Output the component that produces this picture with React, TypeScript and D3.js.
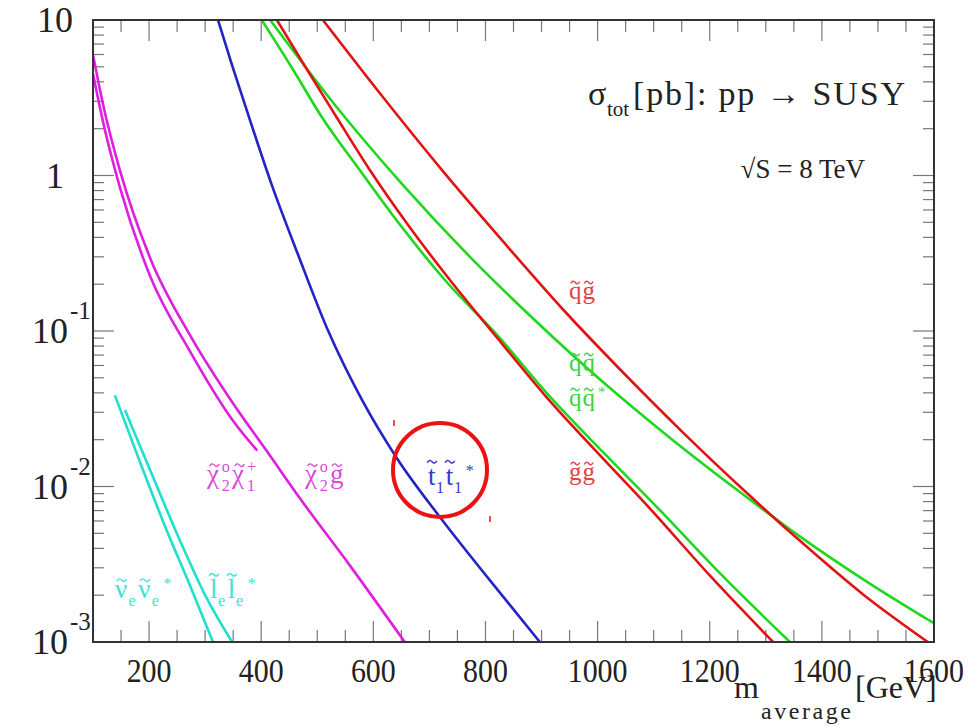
import React from 'react';
import * as d3 from 'd3';

const W = 973;
const H = 726;
const FONT = '"Liberation Serif", "Times New Roman", serif';

// masses in GeV, total cross sections in pb
const snuMass = [139, 184, 228, 273, 314];
const snuXsec = [0.0386, 0.0143, 0.0056, 0.00231, 0.001];

const selMass = [157, 202, 255, 300, 348];
const selXsec = [0.031, 0.0127, 0.0045, 0.002, 0.001];

const n2c1Mass = [100, 121, 148, 202, 273, 352, 393];
const n2c1Xsec = [4.5, 1.98, 0.84, 0.225, 0.074, 0.0258, 0.017];

const n2glMass = [100, 121, 148, 202, 273, 352, 409, 469, 558, 656];
const n2glXsec = [5.96, 2.56, 1.08, 0.294, 0.094, 0.0333, 0.0171, 0.0084, 0.00311, 0.001];

const stopMass = [323, 348, 380, 419, 466, 519, 580, 642, 719, 808, 897];
const stopXsec = [10, 5.13, 2.27, 0.867, 0.308, 0.101, 0.0359, 0.0152, 0.00634, 0.00249, 0.001];

const glglMass = [428, 480, 532, 594, 662, 737, 817, 906, 1004, 1093, 1200, 1313];
const glglXsec = [10, 4.91, 2.45, 1.08, 0.48, 0.212, 0.094, 0.0386, 0.0159, 0.00724, 0.00268, 0.001];

const sqsqbMass = [401, 455, 508, 576, 648, 728, 821, 913, 1015, 1108, 1222, 1343];
const sqsqbXsec = [10, 4.91, 2.38, 1.08, 0.48, 0.212, 0.094, 0.0386, 0.0159, 0.00724, 0.00268, 0.001];

const sqsqMass = [416, 533, 653, 771, 890, 1008, 1126, 1245, 1363, 1482, 1600];
const sqsqXsec = [10, 2.797, 0.867, 0.303, 0.1156, 0.0475, 0.021, 0.00974, 0.00471, 0.00242, 0.00132];

const sqglMass = [510, 617, 724, 831, 938, 1045, 1152, 1259, 1366, 1473, 1589];
const sqglXsec = [10, 3.195, 1.067, 0.378, 0.138, 0.0543, 0.0223, 0.0096, 0.00431, 0.00203, 0.001];

const xMajorTicks = [200, 400, 600, 800, 1000, 1200, 1400, 1600];
const xTickLabels = ['200', '400', '600', '800', '1000', '1200', '1400', '1600'];
const yDecades = [10, 1, 0.1, 0.01, 0.001];
const yExponents = ['', '', '-1', '-2', '-3'];
const yBases = ['10', '1', '10', '10', '10'];

const CYAN = '#1fe0cc';
const MAGENTA = '#e01ee0';
const BLUE = '#2424c4';
const GREEN = '#1ed81e';
const RED = '#e01414';

const x = d3.scaleLinear().domain([100, 1600]).range([93, 934]);
const y = d3.scaleLog().domain([0.001, 10]).range([642, 20]);

const line = d3
  .line<[number, number]>()
  .x(d => x(d[0]))
  .y(d => y(d[1]))
  .curve(d3.curveMonotoneX);

const curves = [
  { m: snuMass, s: snuXsec, c: CYAN },
  { m: selMass, s: selXsec, c: CYAN },
  { m: n2c1Mass, s: n2c1Xsec, c: MAGENTA },
  { m: n2glMass, s: n2glXsec, c: MAGENTA },
  { m: stopMass, s: stopXsec, c: BLUE },
  { m: sqsqbMass, s: sqsqbXsec, c: GREEN },
  { m: sqsqMass, s: sqsqXsec, c: GREEN },
  { m: glglMass, s: glglXsec, c: RED },
  { m: sqglMass, s: sqglXsec, c: RED },
];

type Part = { ch: string; w: number; sub?: string; sup?: string; high?: boolean };

// sparticle symbol: letters in one <text>, tildes drawn as small waves above them
function Sym({ x0, y0, parts, color, fs, star }: { x0: number; y0: number; parts: Part[]; color: string; fs: number; star?: boolean }) {
  let cx = x0;
  const spans: React.ReactNode[] = [];
  const waves: string[] = [];
  parts.forEach((p, i) => {
    const bw = p.w * fs;
    const tw = fs * 0.36;
    const ty = y0 - fs * (p.high ? 0.86 : 0.66);
    const a = cx + bw / 2 - tw / 2;
    waves.push(`M${a},${ty + 1}Q${a + tw / 4},${ty - 3} ${a + tw / 2},${ty}T${a + tw},${ty - 1}`);
    spans.push(<tspan key={'b' + i} x={cx} y={y0} fontSize={fs}>{p.ch}</tspan>);
    let adv = bw;
    if (p.sub) {
      spans.push(<tspan key={'s' + i} x={cx + bw} y={y0 + fs * 0.3} fontSize={fs * 0.6}>{p.sub}</tspan>);
      adv = bw + fs * 0.32;
    }
    if (p.sup) {
      spans.push(<tspan key={'u' + i} x={cx + bw} y={y0 - fs * 0.42} fontSize={fs * 0.6}>{p.sup}</tspan>);
      adv = bw + fs * 0.34;
    }
    cx += adv + fs * 0.04;
  });
  if (star) spans.push(<tspan key="star" x={cx + 2} y={y0 - fs * 0.35} fontSize={fs * 0.6}>*</tspan>);
  return (
    <g>
      <text fill={color} fontFamily={FONT}>{spans}</text>
      <path d={waves.join('')} fill="none" stroke={color} strokeWidth={1.4} />
    </g>
  );
}

export default function App() {
  const yMinor = y.ticks().filter(v => !yDecades.some(d => Math.abs(d - v) / d < 1e-6));
  const xMinor = d3.range(150, 1600, 50).filter(v => v % 200 !== 0);

  return (
    <svg width={W} height={H} style={{ position: 'absolute', left: 0, top: 0, background: '#fff' }}>
      <defs>
        <clipPath id="plotArea">
          <rect x={93} y={20} width={841} height={622} />
        </clipPath>
      </defs>
      <rect width={W} height={H} fill="#fff" />

      {/* ticks */}
      <g stroke="#777" strokeWidth={1.2}>
        {xMajorTicks.map(v => (
          <g key={'xm' + v}>
            <line x1={x(v)} x2={x(v)} y1={642} y2={621} />
            <line x1={x(v)} x2={x(v)} y1={20} y2={41} />
          </g>
        ))}
        {xMinor.map(v => (
          <g key={'xn' + v}>
            <line x1={x(v)} x2={x(v)} y1={642} y2={630} />
            <line x1={x(v)} x2={x(v)} y1={20} y2={32} />
          </g>
        ))}
        {yDecades.map(v => (
          <g key={'ym' + v}>
            <line x1={93} x2={114} y1={y(v)} y2={y(v)} />
            <line x1={934} x2={913} y1={y(v)} y2={y(v)} />
          </g>
        ))}
        {yMinor.map(v => (
          <g key={'yn' + v}>
            <line x1={93} x2={104} y1={y(v)} y2={y(v)} />
            <line x1={934} x2={923} y1={y(v)} y2={y(v)} />
          </g>
        ))}
      </g>

      {/* curves */}
      <g clipPath="url(#plotArea)" fill="none" strokeWidth={2.6}>
        {curves.map((c, i) => (
          <path key={i} d={line(c.m.map((m, j) => [m, c.s[j]] as [number, number])) || ''} stroke={c.c} />
        ))}
      </g>

      {/* frame */}
      <rect x={93} y={20} width={841} height={622} fill="none" stroke="#333" strokeWidth={2} />

      {/* x tick labels */}
      <g fontFamily={FONT} fontSize={34} fill="#222" textAnchor="middle">
        {xMajorTicks.map((v, i) => (
          <text key={v} transform={`translate(${x(v)},682) scale(0.88,1)`}>{xTickLabels[i]}</text>
        ))}
      </g>

      {/* y tick labels */}
      <g fontFamily={FONT} fill="#222">
        {yDecades.map((v, i) =>
          yExponents[i] ? (
            <text key={v}>
              <tspan x={32} y={y(v) + 12} fontSize={36}>{yBases[i]}</tspan>
              <tspan x={70} y={y(v) - 12} fontSize={25}>{yExponents[i]}</tspan>
            </text>
          ) : (
            <text key={v} x={55} y={y(v) + 12} fontSize={36} textAnchor="middle">{yBases[i]}</text>
          )
        )}
      </g>

      {/* axis title */}
      <text fontFamily={FONT} fill="#222">
        <tspan x={734} y={698} fontSize={32}>m</tspan>
        <tspan x={761} y={719} fontSize={24} textLength={90}>average</tspan>
        <tspan x={855} y={698} fontSize={32}>[GeV]</tspan>
      </text>

      {/* header */}
      <text fontFamily={FONT} fill="#222">
        <tspan x={588} y={105} fontSize={34}>σ</tspan>
        <tspan x={607} y={116} fontSize={21}>tot</tspan>
        <tspan x={633} y={105} fontSize={34} textLength={272}>[pb]: pp → SUSY</tspan>
      </text>
      <text x={865} y={178} fontSize={27} fontFamily={FONT} fill="#222" textAnchor="end">√S = 8 TeV</text>

      {/* curve labels */}
      <Sym x0={207} y0={483} fs={27} color="#d84cd8" parts={[{ ch: 'χ', w: 0.55, sub: '2', sup: 'o' }, { ch: 'χ', w: 0.55, sub: '1', sup: '+' }]} />
      <Sym x0={305} y0={483} fs={27} color="#d84cd8" parts={[{ ch: 'χ', w: 0.55, sub: '2', sup: 'o' }, { ch: 'g', w: 0.5 }]} />
      <Sym x0={428} y0={485} fs={27} color="#3b3bd0" star parts={[{ ch: 't', w: 0.3, sub: '1', high: true }, { ch: 't', w: 0.3, sub: '1', high: true }]} />
      <Sym x0={115} y0={598} fs={27} color="#3ee2d6" star parts={[{ ch: 'ν', w: 0.5, sub: 'e' }, { ch: 'ν', w: 0.5, sub: 'e' }]} />
      <Sym x0={210} y0={598} fs={27} color="#3ee2d6" star parts={[{ ch: 'l', w: 0.3, sub: 'e', high: true }, { ch: 'l', w: 0.3, sub: 'e', high: true }]} />
      <Sym x0={569} y0={299} fs={25} color="#e04444" parts={[{ ch: 'q', w: 0.5 }, { ch: 'g', w: 0.5 }]} />
      <Sym x0={569} y0={371} fs={25} color="#3ed43e" parts={[{ ch: 'q', w: 0.5 }, { ch: 'q', w: 0.5 }]} />
      <Sym x0={569} y0={406} fs={25} color="#3ed43e" star parts={[{ ch: 'q', w: 0.5 }, { ch: 'q', w: 0.5 }]} />
      <Sym x0={569} y0={480} fs={25} color="#e04444" parts={[{ ch: 'g', w: 0.5 }, { ch: 'g', w: 0.5 }]} />

      {/* highlight */}
      <circle cx={440} cy={470} r={47} fill="none" stroke="#ee1111" strokeWidth={4} />
      <line x1={394} x2={394} y1={420} y2={426} stroke="#ee1111" strokeWidth={1.5} />
      <line x1={490} x2={490} y1={516} y2={522} stroke="#ee1111" strokeWidth={1.5} />
    </svg>
  );
}
